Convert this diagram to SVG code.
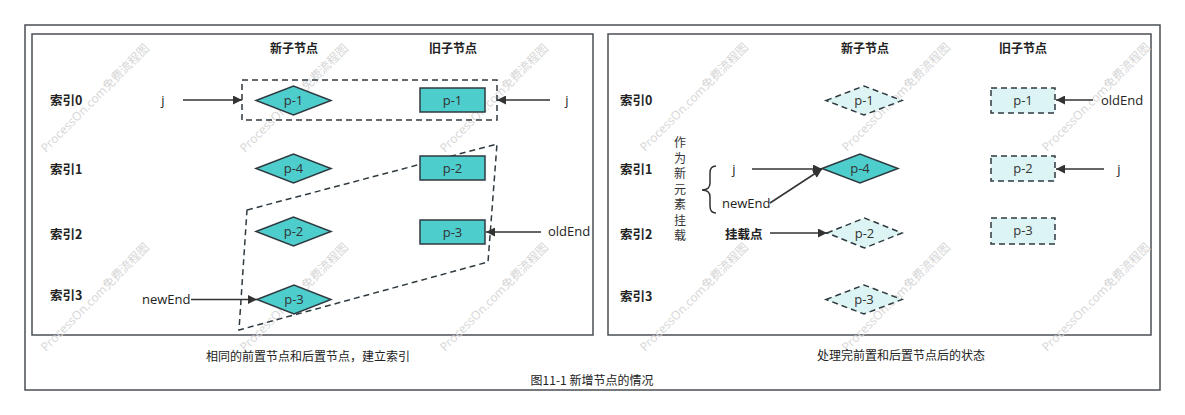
<svg xmlns="http://www.w3.org/2000/svg" width="1185" height="415" viewBox="0 0 1185 415">
<defs>
<style>
.frame{fill:#fff;stroke:#4a4f55;stroke-width:1.5}
.panel{fill:none;stroke:#4a4f55;stroke-width:1.5}
.solid{fill:#4ecdcd;stroke:#2f3a40;stroke-width:1.5}
.ghost{fill:#dcf4f4;stroke:#2f3a40;stroke-width:1.5;stroke-dasharray:6 4}
.dash{fill:none;stroke:#2f3a40;stroke-width:1.5;stroke-dasharray:6 4}
.edge{fill:none;stroke:#333;stroke-width:1.5}
.lbl{font-family:"Open Sans","Noto Sans CJK SC",sans-serif;font-size:13px;font-weight:500;fill:#222}
.idx{font-family:"Noto Sans CJK SC",sans-serif;font-size:12.5px;font-weight:700;fill:#222}
.hdr{font-family:"Noto Sans CJK SC",sans-serif;font-size:12px;font-weight:700;fill:#222;text-anchor:middle}
.node{font-family:"Open Sans","Noto Sans CJK SC",sans-serif;font-size:13px;fill:#333;text-anchor:middle}
.cap{font-family:"Noto Sans CJK SC",sans-serif;font-size:12px;fill:#222;text-anchor:middle}
.vert{font-family:"Noto Sans CJK SC",sans-serif;font-size:12px;fill:#333;text-anchor:middle}
.wm{font-family:"Open Sans","Noto Sans CJK SC",sans-serif;font-size:12px;fill:#d6d6d6}
</style>
<marker id="arr" viewBox="0 0 10 10" refX="10" refY="5" markerWidth="11" markerHeight="9" markerUnits="userSpaceOnUse" orient="auto">
<path d="M0,0 L10,5 L0,10 z" fill="#333"/>
</marker>
</defs>
<rect width="1185" height="415" fill="#fff"/>
<rect id="outer" class="frame" x="25" y="25" width="1135" height="365"/>
<rect id="panel-left" class="panel" x="32" y="34" width="561" height="301"/>
<rect id="panel-right" class="panel" x="608" y="34" width="543" height="301"/>

<g id="watermark">
<text class="wm" transform="translate(46,153) rotate(-45)">ProcessOn.com免费流程图</text>
<text class="wm" transform="translate(245,153) rotate(-45)">ProcessOn.com免费流程图</text>
<text class="wm" transform="translate(445,153) rotate(-45)">ProcessOn.com免费流程图</text>
<text class="wm" transform="translate(645,152) rotate(-45)">ProcessOn.com免费流程图</text>
<text class="wm" transform="translate(847,152) rotate(-45)">ProcessOn.com免费流程图</text>
<text class="wm" transform="translate(1047,152) rotate(-45)">ProcessOn.com免费流程图</text>
<text class="wm" transform="translate(46,352) rotate(-45)">ProcessOn.com免费流程图</text>
<text class="wm" transform="translate(245,352) rotate(-45)">ProcessOn.com免费流程图</text>
<text class="wm" transform="translate(445,352) rotate(-45)">ProcessOn.com免费流程图</text>
<text class="wm" transform="translate(645,352) rotate(-45)">ProcessOn.com免费流程图</text>
<text class="wm" transform="translate(847,352) rotate(-45)">ProcessOn.com免费流程图</text>
<text class="wm" transform="translate(1047,352) rotate(-45)">ProcessOn.com免费流程图</text>
</g>

<g id="left-labels">
<text class="hdr" x="294" y="53">新子节点</text>
<text class="hdr" x="453" y="53">旧子节点</text>
<text class="idx" x="50" y="105">索引0</text>
<text class="idx" x="50" y="174">索引1</text>
<text class="idx" x="50" y="239">索引2</text>
<text class="idx" x="50" y="300">索引3</text>
<text class="lbl" x="163" y="105" text-anchor="middle">j</text>
<text class="lbl" x="567" y="105" text-anchor="middle">j</text>
<text class="lbl" x="548" y="236">oldEnd</text>
<text class="lbl" x="142" y="304">newEnd</text>
</g>

<g id="left-groups">
<rect class="dash" x="242" y="80" width="255" height="40"/>
<path class="dash" d="M247,210 L497,144 L488,262 L239,330 Z"/>
</g>

<g id="L-new-p1"><path class="solid" d="M256,100.5 L293.5,86 L331,100.5 L293.5,115 Z"/><text class="node" x="293.5" y="105">p-1</text></g>
<g id="L-new-p4"><path class="solid" d="M256,168.5 L293.5,154 L331,168.5 L293.5,183 Z"/><text class="node" x="293.5" y="173">p-4</text></g>
<g id="L-new-p2"><path class="solid" d="M256,231.5 L293.5,217 L331,231.5 L293.5,246 Z"/><text class="node" x="293.5" y="236">p-2</text></g>
<g id="L-new-p3"><path class="solid" d="M257,299.5 L294,285 L331,299.5 L294,314 Z"/><text class="node" x="294" y="304">p-3</text></g>
<g id="L-old-p1"><rect class="solid" x="420" y="88" width="65" height="24"/><text class="node" x="452.5" y="105">p-1</text></g>
<g id="L-old-p2"><rect class="solid" x="420" y="156" width="65" height="24"/><text class="node" x="452.5" y="173">p-2</text></g>
<g id="L-old-p3"><rect class="solid" x="420" y="220" width="65" height="24"/><text class="node" x="452.5" y="237">p-3</text></g>

<g id="right-labels">
<text class="hdr" x="865" y="53">新子节点</text>
<text class="hdr" x="1023" y="53">旧子节点</text>
<text class="idx" x="620" y="105">索引0</text>
<text class="idx" x="620" y="174">索引1</text>
<text class="idx" x="620" y="239">索引2</text>
<text class="idx" x="620" y="301">索引3</text>
<text class="lbl" x="1101" y="105">oldEnd</text>
<text class="lbl" x="1119" y="174" text-anchor="middle">j</text>
<text class="lbl" x="734" y="174" text-anchor="middle">j</text>
<text class="lbl" x="722" y="208">newEnd</text>
<text class="idx" x="725" y="239">挂载点</text>
<g id="vertical-note">
<text class="vert" x="680" y="147">作</text>
<text class="vert" x="680" y="162.5">为</text>
<text class="vert" x="680" y="178">新</text>
<text class="vert" x="680" y="193.5">元</text>
<text class="vert" x="680" y="209">素</text>
<text class="vert" x="680" y="224.5">挂</text>
<text class="vert" x="680" y="240">载</text>
</g>
<path id="brace" class="edge" d="M716,166 Q710,166 710,173 L710,183 Q710,190 702,190 Q710,190 710,197 L710,206 Q710,213 716,213"/>
</g>

<g id="R-new-p1"><path class="ghost" d="M826,100.5 L864,86 L902,100.5 L864,115 Z"/><text class="node" x="864" y="105">p-1</text></g>
<g id="R-new-p4"><path class="solid" d="M822,168.5 L860,154 L898,168.5 L860,183 Z"/><text class="node" x="860" y="173">p-4</text></g>
<g id="R-new-p2"><path class="ghost" d="M827,233 L864.5,218 L902,233 L864.5,248 Z"/><text class="node" x="864.5" y="237.5">p-2</text></g>
<g id="R-new-p3"><path class="ghost" d="M826,299.5 L864,285 L902,299.5 L864,314 Z"/><text class="node" x="864" y="304">p-3</text></g>
<g id="R-old-p1"><rect class="ghost" x="991" y="88" width="64" height="25"/><text class="node" x="1023" y="105">p-1</text></g>
<g id="R-old-p2"><rect class="ghost" x="991" y="156" width="64" height="25"/><text class="node" x="1023" y="173">p-2</text></g>
<g id="R-old-p3"><rect class="ghost" x="991" y="218" width="64" height="26"/><text class="node" x="1023" y="235">p-3</text></g>

<g id="connectors">
<line class="edge" x1="183" y1="100" x2="242" y2="100" marker-end="url(#arr)"/>
<line class="edge" x1="550" y1="100" x2="497" y2="100" marker-end="url(#arr)"/>
<line class="edge" x1="541" y1="232" x2="486" y2="232" marker-end="url(#arr)"/>
<line class="edge" x1="191" y1="299.5" x2="257" y2="299.5" marker-end="url(#arr)"/>
<line class="edge" x1="1093" y1="100" x2="1056" y2="100" marker-end="url(#arr)"/>
<line class="edge" x1="1104" y1="169" x2="1056" y2="169" marker-end="url(#arr)"/>
<line class="edge" x1="752" y1="169" x2="822" y2="169" marker-end="url(#arr)"/>
<line class="edge" x1="770" y1="203" x2="822" y2="169" marker-end="url(#arr)"/>
<line class="edge" x1="770" y1="233" x2="827" y2="233" marker-end="url(#arr)"/>
</g>

<g id="captions">
<text class="cap" x="308" y="361">相同的前置节点和后置节点，建立索引</text>
<text class="cap" x="901" y="360">处理完前置和后置节点后的状态</text>
<text class="cap" x="592" y="385">图11-1 新增节点的情况</text>
</g>
</svg>
